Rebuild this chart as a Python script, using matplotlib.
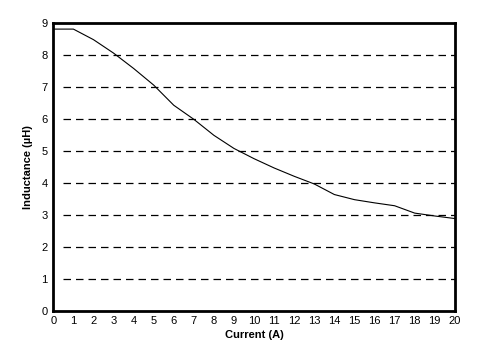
#!/usr/bin/env python3
"""Inductance vs current curve."""
import matplotlib
matplotlib.use("Agg")
import matplotlib.pyplot as plt

current = [0, 1, 2, 3, 4, 5, 6, 7, 8, 9, 10, 11, 12, 13, 14, 15, 16, 17, 18, 19, 20]
inductance = [8.8, 8.8, 8.47, 8.05, 7.57, 7.05, 6.42, 5.98, 5.48, 5.07, 4.75,
              4.46, 4.2, 3.96, 3.63, 3.47, 3.37, 3.28, 3.05, 2.96, 2.88]
y_grid = [1, 2, 3, 4, 5, 6, 7, 8]

plt.rcParams["font.family"] = ["Liberation Sans", "DejaVu Sans"]

fig = plt.figure(figsize=(4.96, 3.62), dpi=100)
ax = fig.add_axes([0.1075, 0.1417, 0.8095, 0.7956])

for g in y_grid:
    ax.axhline(g, xmin=0.025, xmax=1, color="black", linewidth=0.9,
               linestyle=(0, (6, 4)))
ax.plot(current, inductance, color="black", linewidth=0.8)

ax.set_xlim(0, 20)
ax.set_ylim(0, 9)
ax.set_xticks(range(0, 21))
ax.set_yticks(range(0, 10))
ax.tick_params(length=0, labelsize=8, pad=4)
for s in ax.spines.values():
    s.set_linewidth(2)
ax.set_xlabel("Current (A)", fontsize=8, fontweight="bold", labelpad=3)
ax.set_ylabel("Inductance (µH)", fontsize=8, fontweight="bold", labelpad=6)

fig.savefig("out.png", dpi=100)
